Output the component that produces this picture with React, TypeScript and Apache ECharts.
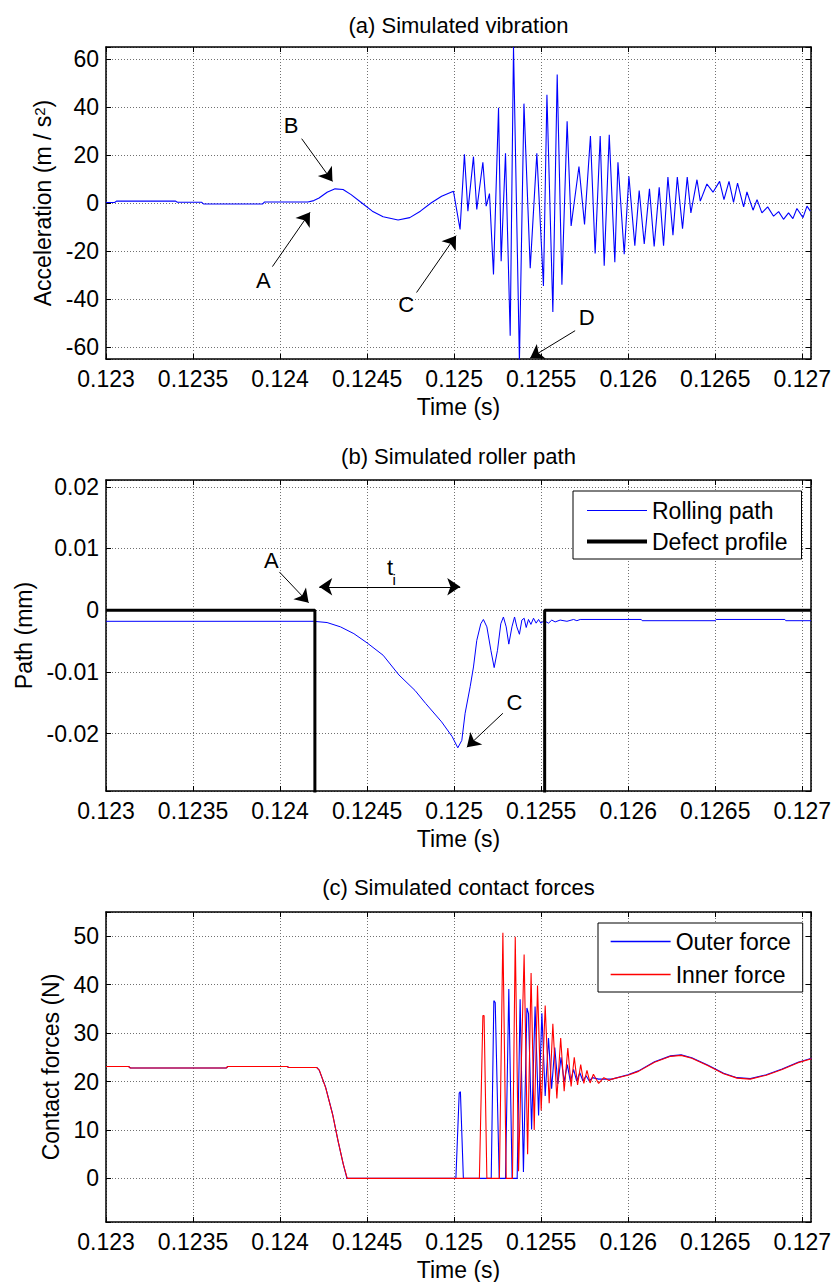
import React, { useEffect, useRef } from 'react';
import * as echarts from 'echarts';

const FONT = '"Liberation Sans", Arial, Helvetica, sans-serif';

// time axis (s)
const T_MIN = 0.123;
const T_MAX = 0.12705;
const T_STEP = 0.0005;

// (a) simulated vibration: [time (s), acceleration (m/s^2)]
const accelData: [number, number][] = [
  [0.12300, 0.2], [0.12305, 0.2], [0.12306, 0.8], [0.12340, 0.8], [0.12341, 0.3], [0.12355, 0.3],
  [0.12356, -0.4], [0.12390, -0.4], [0.12391, 0.4], [0.12416, 0.4],
  [0.124194, 1.0], [0.124224, 2.1], [0.124270, 4.5], [0.124316, 5.9], [0.124362, 5.6], [0.124408, 3.5],
  [0.124470, 0], [0.124530, -3.4], [0.124592, -5.7], [0.124678, -7.1], [0.124745, -6.1], [0.124806, -3.4],
  [0.124867, 0], [0.124928, 2.8], [0.124996, 4.9],
  [0.125034, -11], [0.125059, 20.3], [0.125079, -3.4], [0.125111, 19.3], [0.125130, -2.7], [0.125165, 17],
  [0.125184, -1.3], [0.125203, 3.9], [0.125226, -29.8], [0.125255, 39.7], [0.125270, -24.3], [0.125295, 20.7],
  [0.125322, -55.3], [0.125341, 65], [0.125375, -66], [0.125401, 41.4], [0.125437, -27.2], [0.125475, 20.7],
  [0.125513, -34.6], [0.125533, 45.1], [0.125567, -45.4], [0.125592, 53.5], [0.125619, -34.1], [0.125649, 34.1],
  [0.125672, -9.6], [0.125717, 15.2], [0.125749, -8.9], [0.125783, 27.9], [0.125810, -21], [0.125839, 27.9],
  [0.125862, -26.1], [0.125891, 28.4], [0.125923, -24.7], [0.125941, 17], [0.125977, -21.3], [0.126004, 11.1],
  [0.126038, -17.8], [0.126063, 5.2], [0.126092, -17.1], [0.126122, 5.9], [0.126149, -18.1], [0.126178, 6.5],
  [0.126203, -17.8], [0.126228, 10.8], [0.126257, -13.4], [0.126282, 10.8], [0.126312, -10.7], [0.126339, 10.8],
  [0.126360, -4.1], [0.126395, 9.7], [0.126414, 0.8], [0.126452, 7.9], [0.126487, 4.5], [0.126525, 9],
  [0.126550, 1.4], [0.126579, 9], [0.126605, 0.3], [0.126628, 8.3], [0.126663, -1.6], [0.126682, 4.6],
  [0.126717, -3], [0.126740, 1.4], [0.126768, -4.1], [0.126801, -1.6], [0.126835, -5.5], [0.126864, -3.6],
  [0.126892, -6.8], [0.126921, -4.1], [0.126946, -6.5], [0.126969, -2.3], [0.127004, -6.1], [0.127027, -1.3],
  [0.127046, -3.4],
];

// (b) simulated roller path: [time (s), path (mm)]
const rollingPath: [number, number][] = [
  [0.12300, -0.0018], [0.124194, -0.0018], [0.124270, -0.0020], [0.124347, -0.0027], [0.124424, -0.0038],
  [0.124500, -0.0053], [0.124592, -0.0073], [0.124683, -0.0105], [0.124775, -0.0130], [0.124836, -0.0151],
  [0.124928, -0.0181], [0.124989, -0.0205], [0.125021, -0.0223], [0.125044, -0.0211], [0.125063, -0.0167],
  [0.125092, -0.0124], [0.125111, -0.0092], [0.125130, -0.0049], [0.125153, -0.0022], [0.125168, -0.0015],
  [0.125188, -0.0027], [0.125211, -0.0065], [0.125230, -0.0093], [0.125249, -0.0065], [0.125268, -0.0022],
  [0.125283, -0.0011], [0.125299, -0.0027], [0.125314, -0.0055], [0.125332, -0.0027], [0.125347, -0.0011],
  [0.125360, -0.0027], [0.125375, -0.0039], [0.125389, -0.0016], [0.125402, -0.0013], [0.125414, -0.0028],
  [0.125427, -0.0015], [0.125441, -0.0023], [0.125456, -0.0013], [0.125471, -0.0021], [0.125485, -0.0015],
  [0.125498, -0.0021], [0.125517, -0.0017], [0.125542, -0.0021], [0.125561, -0.0016], [0.125580, -0.0019],
  [0.125609, -0.0016], [0.125648, -0.0018], [0.125686, -0.0015], [0.125705, -0.0017], [0.125724, -0.0015],
  [0.126075, -0.0015], [0.126080, -0.0017], [0.126500, -0.0017], [0.126505, -0.0015], [0.126900, -0.0015],
  [0.126905, -0.0017], [0.127050, -0.0017],
];
const defectProfile: [number, number][] = [
  [0.12300, 0], [0.12420, 0], [0.12420, -0.06], [0.12552, -0.06], [0.12552, 0], [0.12705, 0],
];

// (c) simulated contact forces: [time (s), force (N)]
const outerForce: [number, number][] = [
  [0.123, 23.1], [0.12313, 23.1], [0.12314, 22.8], [0.12369, 22.8], [0.1237, 23.1], [0.12404, 23.1],
  [0.12405, 22.9], [0.12421, 22.9], [0.124224, 22.4], [0.124261, 18.9], [0.124301, 13.4], [0.124332, 7.9],
  [0.124362, 3.1], [0.124384, 0], [0.125010, 0], [0.125029, 17.6], [0.125036, 17.9], [0.125053, 0],
  [0.125213, 0], [0.125228, 36.7], [0.125236, 36.3], [0.125259, 0], [0.125295, 0], [0.125314, 39.1],
  [0.125333, 0], [0.125362, 0], [0.125379, 37.0], [0.125398, 1.3], [0.125418, 35.2], [0.125427, 34.0],
  [0.125445, 10.1], [0.125465, 35.5], [0.125485, 13], [0.125504, 34.1], [0.125523, 17], [0.125542, 29],
  [0.125560, 18.5], [0.125578, 27], [0.125596, 19.5], [0.125614, 25], [0.125632, 20], [0.125650, 23.5],
  [0.125668, 20], [0.125686, 22.5], [0.125704, 20.1], [0.125722, 21.8], [0.125740, 20.1], [0.125758, 21.2],
  [0.125776, 20.1], [0.125794, 20.8], [0.125830, 20.5], [0.125906, 20.5], [0.125998, 21.4], [0.126059, 22.2],
  [0.126151, 24.1], [0.126243, 25.3], [0.126304, 25.5], [0.126365, 24.9], [0.126456, 23.4], [0.126548, 21.7],
  [0.126625, 20.8], [0.126701, 20.6], [0.126793, 21.4], [0.126884, 22.6], [0.126976, 24.0], [0.127053, 24.8],
];
const innerForce: [number, number][] = [
  [0.123, 23.1], [0.12313, 23.1], [0.12314, 22.8], [0.12369, 22.8], [0.1237, 23.1], [0.12404, 23.1],
  [0.12405, 22.9], [0.12421, 22.9], [0.124226, 22.3], [0.124263, 18.6], [0.124303, 13.0], [0.124334, 7.6],
  [0.124364, 2.8], [0.124386, 0], [0.125145, 0], [0.125165, 33.6], [0.125172, 33.6], [0.125188, 0],
  [0.125260, 0], [0.125280, 50.7], [0.125299, 0], [0.125335, 0], [0.125351, 49.9], [0.125370, 1.5],
  [0.125402, 46.2], [0.125422, 5], [0.125442, 42.4], [0.125460, 10], [0.125479, 39.8], [0.125500, 14],
  [0.125523, 35.7], [0.125546, 15.5], [0.125567, 31.9], [0.125590, 16.5], [0.125612, 29], [0.125632, 18],
  [0.125653, 26.9], [0.125672, 19], [0.125690, 25], [0.125709, 19.3], [0.125727, 23.5], [0.125745, 19.6],
  [0.125763, 22.3], [0.125781, 19.7], [0.125800, 21.5], [0.125830, 19.6], [0.125860, 20.8], [0.125890, 20.2],
  [0.125906, 20.5], [0.125998, 21.3], [0.126059, 22.1], [0.126151, 24.0], [0.126243, 25.2], [0.126304, 25.4],
  [0.126365, 24.8], [0.126456, 23.3], [0.126548, 21.6], [0.126625, 20.7], [0.126701, 20.5], [0.126793, 21.3],
  [0.126884, 22.5], [0.126976, 23.9], [0.127053, 24.7],
];

// annotation arrows [from, to] and letters, in data coordinates
const accelArrows: [[number, number], [number, number]][] = [
  [[0.124124, 26.8], [0.124301, 9.0]],
  [[0.123956, -26.5], [0.124172, -3.9]],
  [[0.124784, -37.3], [0.125011, -13.6]],
  [[0.125695, -53.2], [0.125437, -64.6]],
];
const accelLetters: [string, number, number][] = [
  ['B', 0.124063, 32.2], ['A', 0.123904, -32.4], ['C', 0.124724, -42.4], ['D', 0.125762, -47.9],
];
const pathArrows: [[number, number], [number, number]][] = [
  [[0.123996, 0.0062], [0.124164, 0.0012]],
  [[0.125280, -0.0167], [0.125073, -0.0222]],
];
const pathDoubleArrow: [[number, number], [number, number]] = [[0.124225, 0.0038], [0.125035, 0.0038]];
const pathLetters: [string, number, number, number][] = [
  ['A', 0.123950, 0.0081, 22], ['C', 0.125347, -0.0149, 22], ['t', 0.124632, 0.0070, 22], ['i', 0.124656, 0.0049, 15],
];

// axis ranges and tick steps
const yRanges = [
  { min: -65, max: 65, step: 20, split: 6 },
  { min: -0.0293, max: 0.0211, step: 0.01, split: 5 },
  { min: -9, max: 55, step: 10, split: 6 },
];
const titles = ['(a) Simulated vibration', '(b) Simulated roller path', '(c) Simulated contact forces'];
const yNames = ['{n|Acceleration (m / s}{s|2}{n|)}', 'Path (mm)', 'Contact forces (N)'];

const grids = [
  { left: 106, top: 47, width: 705, height: 312 },
  { left: 106, top: 480, width: 705, height: 311 },
  { left: 106, top: 912, width: 705, height: 310 },
];
const titleY = [25, 456, 887];
const yNameGaps = [50, 70, 44];

const onStep = (v: number, step: number) => {
  const k = Math.round(v / step);
  return Math.abs(v - k * step) < step * 1e-6;
};

function buildOption() {
  const xAxis: any[] = [];
  const yAxis: any[] = [];
  grids.forEach((_, i) => {
    xAxis.push({
      type: 'value', gridIndex: i, position: 'bottom', min: T_MIN, max: T_MAX, interval: T_STEP,
      axisLine: { show: true, onZero: false, lineStyle: { color: '#000', width: 1.5 } },
      axisTick: { show: true, inside: true, length: 5, lineStyle: { color: '#000', width: 1 } },
      axisLabel: {
        show: true, margin: 8, fontSize: 23, fontFamily: FONT, color: '#000', showMaxLabel: false,
        formatter: (v: number) => (onStep(v, T_STEP) ? String(parseFloat(v.toFixed(4))) : ''),
      },
      splitLine: { show: true, lineStyle: { color: '#707070', type: [1, 2], width: 1 } },
      name: 'Time (s)', nameLocation: 'middle', nameGap: 36,
      nameTextStyle: { fontSize: 23, fontFamily: FONT, color: '#000' },
    });
    xAxis.push({
      type: 'value', gridIndex: i, position: 'top', min: T_MIN, max: T_MAX, interval: T_STEP,
      axisLine: { show: true, onZero: false, lineStyle: { color: '#000', width: 1.5 } },
      axisTick: { show: true, inside: true, length: 5, lineStyle: { color: '#000', width: 1 } },
      axisLabel: { show: false }, splitLine: { show: false },
    });
    const r = yRanges[i];
    yAxis.push({
      type: 'value', gridIndex: i, position: 'left', min: r.min, max: r.max, splitNumber: r.split,
      axisLine: { show: true, onZero: false, lineStyle: { color: '#000', width: 1.5 } },
      axisTick: { show: true, inside: true, length: 5, lineStyle: { color: '#000', width: 1 } },
      axisLabel: {
        show: true, margin: 7, fontSize: 23, fontFamily: FONT, color: '#000',
        formatter: (v: number) => {
          if (!onStep(v, r.step)) return '';
          const k = Math.round(v / r.step);
          if (k === 0) return '0';
          return String(parseFloat((k * r.step).toFixed(4)));
        },
      },
      splitLine: { show: true, lineStyle: { color: '#707070', type: [1, 2], width: 1 } },
      name: yNames[i], nameLocation: 'middle', nameGap: yNameGaps[i],
      nameTextStyle: {
        fontSize: 23, fontFamily: FONT, color: '#000',
        rich: {
          n: { fontSize: 23, fontFamily: FONT, color: '#000' },
          s: { fontSize: 15, fontFamily: FONT, color: '#000', verticalAlign: 'top' },
        },
      },
    });
    yAxis.push({
      type: 'value', gridIndex: i, position: 'right', min: r.min, max: r.max, splitNumber: r.split,
      axisLine: { show: true, onZero: false, lineStyle: { color: '#000', width: 1.5 } },
      axisTick: { show: true, inside: true, length: 5, lineStyle: { color: '#000', width: 1 } },
      axisLabel: { show: false }, splitLine: { show: false },
    });
  });

  const letterPoint = (name: string, t: number, v: number, size: number) => ({
    name, coord: [t, v],
    label: { show: true, position: 'inside', formatter: '{b}', fontSize: size, fontFamily: FONT, color: '#000' },
  });
  const arrowLine = (a: [[number, number], [number, number]]) => [{ coord: a[0] }, { coord: a[1] }];
  const markLineBase = {
    silent: true, symbol: ['none', 'arrow'], symbolSize: 13, animation: false,
    label: { show: false }, emphasis: { disabled: true },
    lineStyle: { color: '#000', width: 1, type: 'solid' },
  };
  const markPointBase = {
    silent: true, symbol: 'rect', symbolSize: 1, animation: false,
    itemStyle: { color: 'rgba(0,0,0,0)' }, emphasis: { disabled: true },
  };

  const series: any[] = [
    {
      name: 'Acceleration', type: 'line', xAxisIndex: 0, yAxisIndex: 0, data: accelData,
      symbol: 'none', lineStyle: { color: '#0000ff', width: 1.1 }, itemStyle: { color: '#0000ff' }, clip: true,
      markLine: { ...markLineBase, data: accelArrows.map(arrowLine) },
      markPoint: { ...markPointBase, data: accelLetters.map(([n, t, v]) => letterPoint(n, t, v, 22)) },
    },
    {
      name: 'Rolling path', type: 'line', xAxisIndex: 2, yAxisIndex: 2, data: rollingPath,
      symbol: 'none', lineStyle: { color: '#0000ff', width: 1 }, itemStyle: { color: '#0000ff' }, clip: true,
      markLine: {
        ...markLineBase,
        data: [
          ...pathArrows.map(arrowLine),
          [{ coord: pathDoubleArrow[0], symbol: 'arrow' }, { coord: pathDoubleArrow[1], symbol: 'arrow' }],
        ],
      },
      markPoint: { ...markPointBase, data: pathLetters.map(([n, t, v, s]) => letterPoint(n, t, v, s)) },
    },
    {
      name: 'Defect profile', type: 'line', xAxisIndex: 2, yAxisIndex: 2, data: defectProfile,
      symbol: 'none', lineStyle: { color: '#000', width: 3 }, itemStyle: { color: '#000' }, clip: true,
    },
    {
      name: 'Outer force', type: 'line', xAxisIndex: 4, yAxisIndex: 4, data: outerForce,
      symbol: 'none', lineStyle: { color: '#0000ff', width: 1.1 }, itemStyle: { color: '#0000ff' }, clip: true,
    },
    {
      name: 'Inner force', type: 'line', xAxisIndex: 4, yAxisIndex: 4, data: innerForce,
      symbol: 'none', lineStyle: { color: '#ff0000', width: 1.1 }, itemStyle: { color: '#ff0000' }, clip: true,
    },
  ];

  const legendBase = {
    orient: 'vertical', itemWidth: 60, itemHeight: 14, selectedMode: false,
    backgroundColor: '#fff', borderColor: '#000', borderWidth: 1, borderRadius: 0,
    itemStyle: { opacity: 0 },
    textStyle: { fontSize: 23, fontFamily: FONT, color: '#000' },
  };

  return {
    animation: false,
    backgroundColor: '#fff',
    textStyle: { fontFamily: FONT },
    grid: grids.map((g) => ({ ...g, containLabel: false, outerBoundsMode: 'none', show: false })),
    xAxis,
    yAxis,
    legend: [
      {
        ...legendBase,
        data: [
          { name: 'Rolling path', lineStyle: { width: 1.2 } },
          { name: 'Defect profile', lineStyle: { width: 4 } },
        ],
        left: 573, top: 491, padding: [8, 14, 6, 12], itemGap: 8,
      },
      {
        ...legendBase,
        data: [
          { name: 'Outer force', lineStyle: { width: 1.3 } },
          { name: 'Inner force', lineStyle: { width: 1.3 } },
        ],
        left: 598, top: 923, padding: [7, 12, 6, 12], itemGap: 10,
      },
    ],
    graphic: titles.map((t, i) => ({
      type: 'text', x: 458.5, y: titleY[i], silent: true,
      style: { text: t, fontSize: 22, fontFamily: FONT, fill: '#000', align: 'center', verticalAlign: 'middle' },
    })),
    series,
  };
}

export default function App() {
  const ref = useRef<HTMLDivElement>(null);
  useEffect(() => {
    if (!ref.current) return;
    const chart = echarts.init(ref.current, null, { renderer: 'svg' });
    chart.setOption(buildOption() as any);
    return () => chart.dispose();
  }, []);
  return (
    <div
      ref={ref}
      style={{ position: 'absolute', left: 0, top: 0, width: 832, height: 1282, background: '#fff' }}
    />
  );
}
